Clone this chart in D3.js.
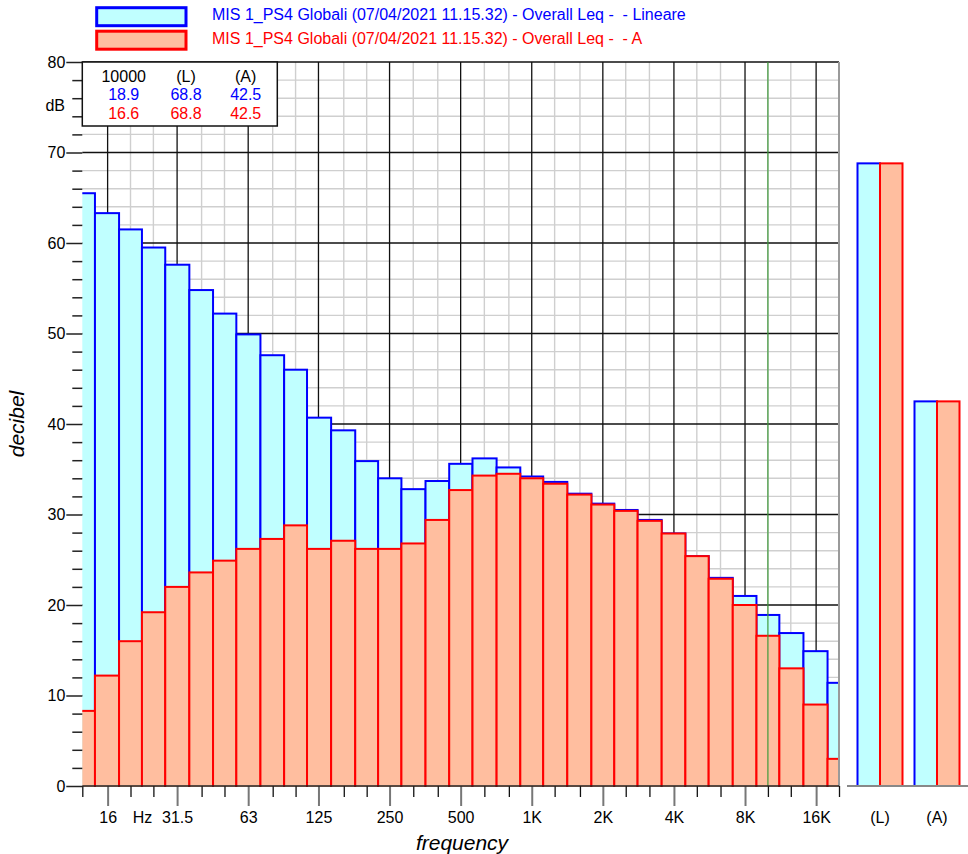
<!DOCTYPE html>
<html>
<head>
<meta charset="utf-8">
<script src="https://cdn.jsdelivr.net/npm/d3@7"></script>
<style>
body { margin: 0; background: #fff; }
text { font-family: "Liberation Sans", Arial, sans-serif; }
</style>
</head>
<body>
<div class="chart"></div>
<script>
// 1/3 octave bands (nominal Hz)
const freqs = [12.5, 16, 20, 25, 31.5, 40, 50, 63, 80, 100, 125, 160, 200, 250, 315, 400,
	500, 630, 800, 1000, 1250, 1600, 2000, 2500, 3150, 4000, 5000, 6300, 8000, 10000, 12500, 16000, 20000];
// Leq, linear weighting
const linValues = [65.5, 63.3, 61.5, 59.5, 57.6, 54.8, 52.2, 49.9, 47.6, 46.0, 40.7, 39.3, 35.9, 34.0, 32.8, 33.7,
	35.6, 36.2, 35.2, 34.2, 33.6, 32.3, 31.2, 30.5, 29.4, 27.9, 25.4, 23.0, 21.0, 18.9, 16.9, 14.9, 11.4];
// Leq, A weighting
const aValues = [8.3, 12.2, 16.0, 19.2, 22.0, 23.6, 24.9, 26.2, 27.3, 28.8, 26.2, 27.1, 26.2, 26.2, 26.8, 29.4,
	32.7, 34.3, 34.5, 34.0, 33.4, 32.2, 31.1, 30.4, 29.3, 27.9, 25.4, 22.9, 20.0, 16.6, 13.0, 9.0, 3.0];

const octaveTicks = [16, 31.5, 63, 125, 250, 500, 1000, 2000, 4000, 8000, 16000];
const octaveLabels = ['16', '31.5', '63', '125', '250', '500', '1K', '2K', '4K', '8K', '16K'];

const overallCats = ['(L)', '(A)'];
const overallLin = [68.8, 42.5];
const overallA = [68.8, 42.5];

const cursorFreq = 10000;
const infoHeader = ['10000', '(L)', '(A)'];
const infoLin = ['18.9', '68.8', '42.5'];
const infoA = ['16.6', '68.8', '42.5'];

const seriesNames = [
	'MIS 1_PS4 Globali (07/04/2021 11.15.32) - Overall Leq -  - Lineare',
	'MIS 1_PS4 Globali (07/04/2021 11.15.32) - Overall Leq -  - A'
];
const strokeCols = ['#0000ff', '#ff0000'];
const fillCols = ['#c0ffff', '#ffbe9f'];

const W = 968, H = 854;
const plot = { left: 82.3, right: 839, top: 62, bottom: 786 };

const svg = d3.select('.chart')
	.append('svg')
		.attr('width', W)
		.attr('height', H);

const x = d3.scaleLog().base(2)
	.domain([12.5, 20000])
	.range([plot.left, plot.right]);

const y = d3.scaleLinear()
	.domain([0, 80])
	.range([plot.bottom, plot.top]);

// grid
const grid = svg.append('g');
const yGrid = d3.range(0, 81, 2);
grid.selectAll('.hminor')
	.data(yGrid.filter(d => d % 10 !== 0))
	.enter().append('line')
		.attr('x1', plot.left).attr('x2', plot.right)
		.attr('y1', d => y(d)).attr('y2', d => y(d))
		.attr('stroke', '#cfcfcf').attr('stroke-width', 1.4);
grid.selectAll('.vminor')
	.data(freqs.filter(f => !octaveTicks.includes(f) && f !== 12.5 && f !== 20000))
	.enter().append('line')
		.attr('x1', d => x(d)).attr('x2', d => x(d))
		.attr('y1', plot.top).attr('y2', plot.bottom)
		.attr('stroke', '#cfcfcf').attr('stroke-width', 1.4);
grid.selectAll('.hmajor')
	.data(yGrid.filter(d => d % 10 === 0 && d > 0))
	.enter().append('line')
		.attr('x1', plot.left).attr('x2', plot.right)
		.attr('y1', d => y(d)).attr('y2', d => y(d))
		.attr('stroke', '#111').attr('stroke-width', 1.3);
grid.selectAll('.vmajor')
	.data(octaveTicks)
	.enter().append('line')
		.attr('x1', d => x(d)).attr('x2', d => x(d))
		.attr('y1', plot.top).attr('y2', plot.bottom)
		.attr('stroke', '#111').attr('stroke-width', 1.3);

// bars, band edges at the geometric mean of neighbouring bands
function bandLo(i) {
	return i === 0 ? freqs[0] / Math.sqrt(freqs[1] / freqs[0]) : Math.sqrt(freqs[i - 1] * freqs[i]);
}
function bandHi(i) {
	const n = freqs.length;
	return i === n - 1 ? freqs[n - 1] * Math.sqrt(freqs[n - 1] / freqs[n - 2]) : Math.sqrt(freqs[i] * freqs[i + 1]);
}

svg.append('clipPath').attr('id', 'clip')
	.append('rect')
		.attr('x', plot.left).attr('y', 0)
		.attr('width', plot.right - plot.left).attr('height', plot.bottom + 1);

const bars = svg.append('g').attr('clip-path', 'url(#clip)');
[linValues, aValues].forEach((vals, s) => {
	bars.append('g')
		.selectAll('rect')
		.data(vals)
		.enter().append('rect')
			.attr('x', (d, i) => x(bandLo(i)))
			.attr('width', (d, i) => x(bandHi(i)) - x(bandLo(i)))
			.attr('y', d => y(d))
			.attr('height', d => y(0) - y(d) + 2)
			.attr('fill', fillCols[s])
			.attr('stroke', strokeCols[s])
			.attr('stroke-width', 2);
});

// cursor
svg.append('line')
	.attr('x1', x(cursorFreq)).attr('x2', x(cursorFreq))
	.attr('y1', plot.top).attr('y2', plot.bottom)
	.attr('stroke', '#3f9a3a').attr('stroke-width', 1.2);

// right edge of plot
svg.append('line')
	.attr('x1', plot.right).attr('x2', plot.right)
	.attr('y1', plot.top).attr('y2', plot.bottom)
	.attr('stroke', '#9a9a9a').attr('stroke-width', 2);

// y axis
const yMajor = d3.axisLeft(y)
	.tickValues(d3.range(0, 81, 10))
	.tickSize(16)
	.tickPadding(1);
const yAxisG = svg.append('g')
	.attr('transform', `translate(${plot.left}, 0)`)
	.call(yMajor);
const yMinor = d3.axisLeft(y)
	.tickValues(yGrid.filter(d => d % 10 !== 0))
	.tickSize(10)
	.tickFormat('');
const yMinorG = svg.append('g')
	.attr('transform', `translate(${plot.left}, 0)`)
	.call(yMinor);
[yAxisG, yMinorG].forEach(g => {
	g.select('.domain').remove();
	g.selectAll('line').attr('stroke', '#222').attr('stroke-width', 1.5);
});
yAxisG.selectAll('text').attr('font-size', 16).attr('fill', '#000');
svg.append('text')
	.attr('x', 65).attr('y', 111)
	.attr('text-anchor', 'end')
	.attr('font-size', 16)
	.text('dB');

// x axis
const xMinor = d3.axisBottom(x)
	.tickValues(freqs.filter(f => !octaveTicks.includes(f)))
	.tickSize(11)
	.tickFormat('');
const xMinorG = svg.append('g')
	.attr('transform', `translate(0, ${plot.bottom})`)
	.call(xMinor);
xMinorG.selectAll('line').attr('stroke', '#111').attr('stroke-width', 1.3);
xMinorG.select('.domain').remove();

const xMajor = d3.axisBottom(x)
	.tickValues(octaveTicks)
	.tickSize(20)
	.tickPadding(6)
	.tickFormat((d, i) => octaveLabels[i]);
const xAxisG = svg.append('g')
	.attr('transform', `translate(0, ${plot.bottom})`)
	.call(xMajor);
xAxisG.select('.domain').remove();
xAxisG.selectAll('line').attr('stroke', '#777').attr('stroke-width', 2);
xAxisG.selectAll('text').attr('font-size', 16).attr('fill', '#000');

svg.append('line')
	.attr('x1', plot.left).attr('x2', plot.right)
	.attr('y1', plot.bottom).attr('y2', plot.bottom)
	.attr('stroke', '#222').attr('stroke-width', 1.5);

svg.append('text')
	.attr('x', 142.5).attr('y', 823)
	.attr('text-anchor', 'middle')
	.attr('font-size', 16)
	.text('Hz');

svg.append('text')
	.attr('x', 462).attr('y', 850)
	.attr('text-anchor', 'middle')
	.attr('font-size', 21)
	.attr('font-style', 'italic')
	.text('frequency');

svg.append('text')
	.attr('transform', 'translate(24, 424) rotate(-90)')
	.attr('text-anchor', 'middle')
	.attr('font-size', 21)
	.attr('font-style', 'italic')
	.text('decibel');

// overall levels panel
const xo = d3.scaleBand()
	.domain(overallCats)
	.range([851.5, 965.5])
	.paddingInner(12 / 57)
	.paddingOuter(6 / 57);
const xs = d3.scaleBand()
	.domain([0, 1])
	.range([0, xo.bandwidth()]);

[overallLin, overallA].forEach((vals, s) => {
	svg.append('g')
		.selectAll('rect')
		.data(vals)
		.enter().append('rect')
			.attr('x', (d, i) => xo(overallCats[i]) + xs(s))
			.attr('width', xs.bandwidth())
			.attr('y', d => y(d))
			.attr('height', d => y(0) - y(d))
			.attr('fill', fillCols[s])
			.attr('stroke', strokeCols[s])
			.attr('stroke-width', 2);
});

svg.append('line')
	.attr('x1', 847).attr('x2', W)
	.attr('y1', plot.bottom).attr('y2', plot.bottom)
	.attr('stroke', '#888').attr('stroke-width', 2);

svg.selectAll('.ocat')
	.data(overallCats)
	.enter().append('text')
		.attr('x', d => xo(d) + xo.bandwidth() / 2)
		.attr('y', 823)
		.attr('text-anchor', 'middle')
		.attr('font-size', 16)
		.text(d => d);

// info box
svg.append('rect')
	.attr('x', plot.left).attr('y', plot.top)
	.attr('width', 195).attr('height', 64)
	.attr('fill', '#fff')
	.attr('stroke', '#111').attr('stroke-width', 1.5);
const infoCols = [123.7, 186, 245.7];
[[infoHeader, '#000', 82], [infoLin, '#0000ff', 100], [infoA, '#ff0000', 118.5]].forEach(([row, col, yy]) => {
	svg.append('g')
		.selectAll('text')
		.data(row)
		.enter().append('text')
			.attr('x', (d, i) => infoCols[i])
			.attr('y', yy)
			.attr('text-anchor', 'middle')
			.attr('font-size', 16)
			.attr('fill', col)
			.text(d => d);
});

// legend
seriesNames.forEach((name, s) => {
	const ly = 7.7 + s * 23.5;
	svg.append('rect')
		.attr('x', 96.7).attr('y', ly)
		.attr('width', 89.3).attr('height', 18)
		.attr('fill', fillCols[s])
		.attr('stroke', strokeCols[s])
		.attr('stroke-width', 3);
	svg.append('text')
		.attr('x', 212).attr('y', ly + 12.5)
		.attr('font-size', 16)
		.attr('fill', strokeCols[s])
		.style('white-space', 'pre')
		.text(name);
});
</script>
</body>
</html>
